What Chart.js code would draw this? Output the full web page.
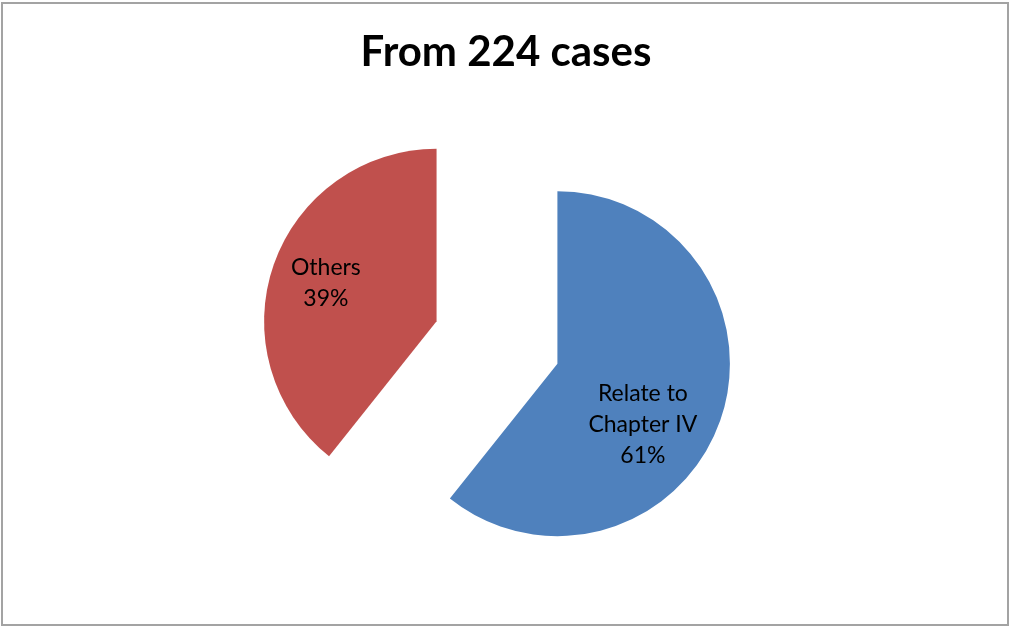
<!DOCTYPE html>
<html lang="en">
<head>
    <meta charset="UTF-8">
    <title>From 224 cases</title>
    <style>
        body {
            margin: 0;
            padding: 0;
            background: #ffffff;
            overflow: hidden;
        }

        .chart-container {
            position: relative;
            width: 1010px;
            height: 628px;
        }

        .frame {
            position: absolute;
            left: 1px;
            top: 2px;
            width: 1008px;
            height: 624px;
            box-sizing: border-box;
            border: 2px solid #a3a3a3;
            pointer-events: none;
        }
    </style>
    <script src="https://cdn.jsdelivr.net/npm/chart.js"></script>
</head>
<body>
    <div class="chart-container">
        <canvas id="casesChart"></canvas>
    </div>
    <div class="frame"></div>
    <script>
        const chartTitle = 'From 224 cases';
        const categories = ['Relate to Chapter IV', 'Others'];
        const labelLines = [['Relate to', 'Chapter IV'], ['Others']];
        const caseCounts = [136, 88];

        // pull every slice away from the centre along its middle angle
        const explodePlugin = {
            id: 'explode',
            afterDatasetsUpdate(chart, args, opts) {
                chart.getDatasetMeta(0).data.forEach(arc => {
                    const mid = (arc.startAngle + arc.endAngle) / 2;
                    arc.x += Math.cos(mid) * opts.distance;
                    arc.y += Math.sin(mid) * opts.distance;
                });
            }
        };

        // category name + percentage written inside each slice
        const sliceLabelPlugin = {
            id: 'sliceLabels',
            afterDatasetsDraw(chart, args, opts) {
                const ctx = chart.ctx;
                const total = caseCounts.reduce((a, b) => a + b, 0);
                ctx.save();
                ctx.font = opts.font;
                ctx.fillStyle = opts.color;
                ctx.textAlign = 'center';
                ctx.textBaseline = 'middle';
                chart.getDatasetMeta(0).data.forEach((arc, i) => {
                    const place = opts.place[i];
                    const a = arc.startAngle + (arc.endAngle - arc.startAngle) * place.along;
                    const r = arc.outerRadius * place.depth;
                    const cx = arc.x + Math.cos(a) * r;
                    const cy = arc.y + Math.sin(a) * r;
                    const lines = labelLines[i].concat(Math.round(caseCounts[i] / total * 100) + '%');
                    const top = cy - (lines.length - 1) * opts.lineHeight / 2;
                    lines.forEach((t, j) => ctx.fillText(t, cx, top + j * opts.lineHeight));
                });
                ctx.restore();
            }
        };

        const titlePlugin = {
            id: 'plainTitle',
            afterDraw(chart, args, opts) {
                const ctx = chart.ctx;
                ctx.save();
                ctx.font = opts.font;
                ctx.fillStyle = '#000';
                ctx.textAlign = 'center';
                ctx.textBaseline = 'alphabetic';
                ctx.fillText(chartTitle, opts.x, opts.y);
                ctx.restore();
            }
        };

        const ctx = document.getElementById('casesChart').getContext('2d');
        new Chart(ctx, {
            type: 'pie',
            data: {
                labels: categories,
                datasets: [{
                    data: caseCounts,
                    backgroundColor: ['#4f81bd', '#c0504d'],
                    borderWidth: 0,
                    radius: 172.5
                }]
            },
            options: {
                responsive: true,
                maintainAspectRatio: false,
                animation: false,
                layout: {
                    padding: { left: 0, right: 16, top: 57, bottom: 0 }
                },
                plugins: {
                    legend: { display: false },
                    title: { display: false },
                    explode: { distance: 64 },
                    sliceLabels: {
                        font: '23px Lato',
                        color: '#000',
                        lineHeight: 31,
                        place: [
                            { along: 0.575, depth: 0.61 },
                            { along: 0.5, depth: 0.68 }
                        ]
                    },
                    plainTitle: { font: 'bold 42px Lato', x: 506, y: 66 }
                }
            },
            plugins: [explodePlugin, sliceLabelPlugin, titlePlugin]
        });
    </script>
</body>
</html>
